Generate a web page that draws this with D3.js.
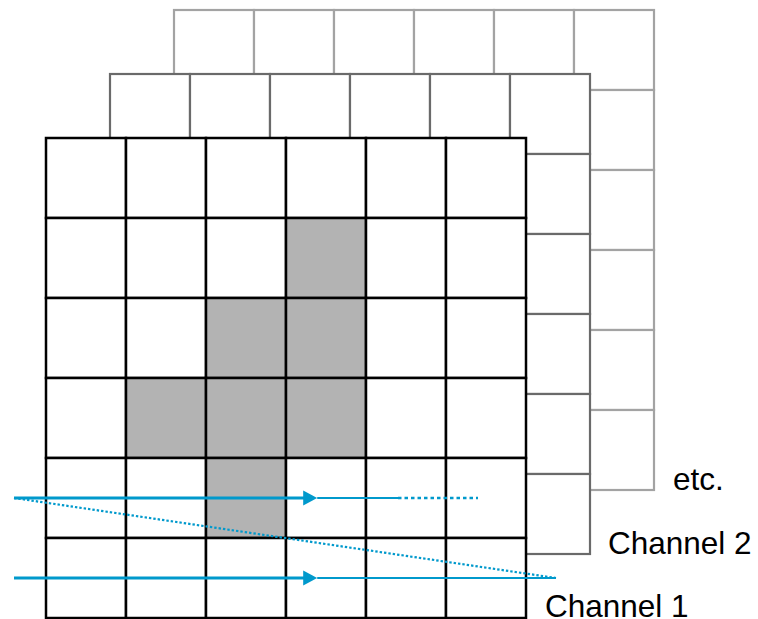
<!DOCTYPE html>
<html>
<head>
<meta charset="utf-8">
<script src="https://cdn.jsdelivr.net/npm/d3@7/dist/d3.min.js"></script>
<style>
html,body{margin:0;padding:0;background:#fff;}
svg{display:block;}
</style>
</head>
<body>
<svg id="chart" width="758" height="619"></svg>
<script>
// ---- data ----
const channels = ["Channel 1", "Channel 2", "etc."];
const gridRows = [0, 1, 2, 3, 4, 5];
const gridCols = [0, 1, 2, 3, 4, 5];
// filled (gray) cells of Channel 1: [row, col]
const filledCells = [[1, 3], [2, 2], [2, 3], [3, 1], [3, 2], [3, 3], [4, 2]];
// scan-path arrows in grid units (row centre, column positions)
const scanRows = [4.5, 5.5];
const scanStart = -0.4;
const arrowTip = 3.39;
const solidEnd = [4.4, 6.375];
const dottedEnd = [5.4, null];
// dotted return diagonal: [col, row] from -> to
const returnPath = [[-0.4, 4.5], [6.375, 5.5]];

// ---- layout ----
const svg = d3.select("#chart");
const cell = 80;
const x = d3.scaleLinear().domain([0, 6]).range([46, 46 + 6 * cell]);
const y = d3.scaleLinear().domain([0, 6]).range([138, 138 + 6 * cell]);
const shift = 64;
const strokeCols = ["#000000", "#6a6a6a", "#a3a3a3"];
const strokeW = [2.5, 2.2, 2.2];
const blue = "#0099cc";

// draw back to front
[2, 1, 0].forEach(ci => {
  const dx = ci * shift, dy = -ci * shift;
  const g = svg.append("g").attr("transform", `translate(${dx},${dy})`);
  const cells = [];
  gridRows.forEach(r => gridCols.forEach(c => cells.push({r, c})));
  g.selectAll("rect").data(cells).enter().append("rect")
    .attr("x", d => x(d.c)).attr("y", d => y(d.r))
    .attr("width", x(1) - x(0)).attr("height", y(1) - y(0))
    .attr("fill", d => (ci === 0 && filledCells.some(f => f[0] === d.r && f[1] === d.c)) ? "#b3b3b3" : "#ffffff")
    .attr("stroke", strokeCols[ci]).attr("stroke-width", strokeW[ci]);
});

// labels
const labelPos = [[545, 616.5], [608, 554], [673, 490]];
svg.selectAll("text.lab").data(channels).enter().append("text")
  .attr("class", "lab")
  .attr("x", (d, i) => labelPos[i][0]).attr("y", (d, i) => labelPos[i][1])
  .attr("font-family", "Liberation Sans, Arial, sans-serif")
  .attr("font-size", 31.5).attr("fill", "#000")
  .text(d => d);

// arrows
const ag = svg.append("g");
// diagonal dotted return
ag.append("line")
  .attr("x1", x(returnPath[0][0])).attr("y1", y(returnPath[0][1]))
  .attr("x2", x(returnPath[1][0])).attr("y2", y(returnPath[1][1]))
  .attr("stroke", blue).attr("stroke-width", 2.2).attr("stroke-dasharray", "2.4,2");

scanRows.forEach((r, i) => {
  const yy = y(r);
  const tip = x(arrowTip);
  ag.append("line").attr("x1", x(scanStart)).attr("x2", tip - 12)
    .attr("y1", yy).attr("y2", yy).attr("stroke", blue).attr("stroke-width", 3);
  ag.append("path")
    .attr("d", `M${tip},${yy} L${tip - 14},${yy - 7.5} L${tip - 14},${yy + 7.5} Z`)
    .attr("fill", blue);
  ag.append("line").attr("x1", tip).attr("x2", x(solidEnd[i]))
    .attr("y1", yy).attr("y2", yy).attr("stroke", blue).attr("stroke-width", 1.8);
  if (dottedEnd[i] !== null) {
    ag.append("line").attr("x1", x(solidEnd[i])).attr("x2", x(dottedEnd[i]))
      .attr("y1", yy).attr("y2", yy).attr("stroke", blue).attr("stroke-width", 2.6)
      .attr("stroke-dasharray", "3.5,3");
  }
});
</script>
</body>
</html>
